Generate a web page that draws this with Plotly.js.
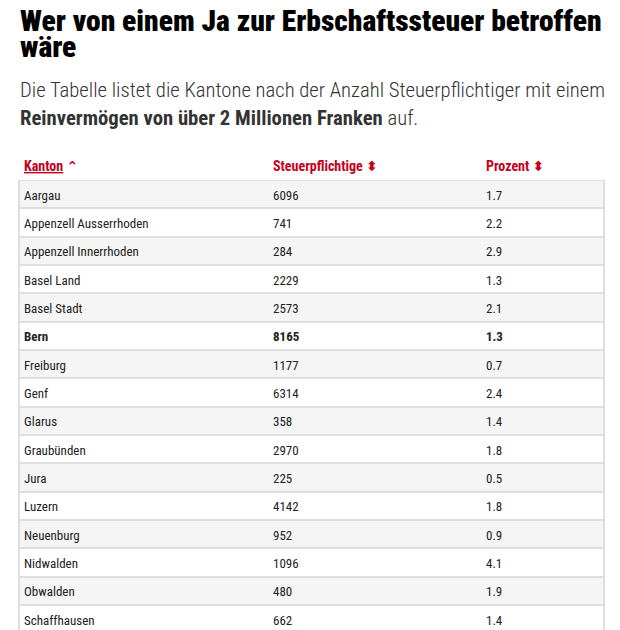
<!DOCTYPE html>
<html>
<head>
<meta charset="utf-8">
<script src="https://cdn.plot.ly/plotly-3.0.1.min.js"></script>
<style>
html,body{margin:0;padding:0;overflow:hidden;background:#fff;}
#chart{width:620px;height:650px;}
</style>
</head>
<body>
<div id="chart"></div>
<script>
var kantone = ["Aargau","Appenzell Ausserrhoden","Appenzell Innerrhoden","Basel Land","Basel Stadt","Bern","Freiburg","Genf","Glarus","Graubünden","Jura","Luzern","Neuenburg","Nidwalden","Obwalden","Schaffhausen"];
var steuerpflichtige = [6096,741,284,2229,2573,8165,1177,6314,358,2970,225,4142,952,1096,480,662];
var prozent = [1.7,2.2,2.9,1.3,2.1,1.3,0.7,2.4,1.4,1.8,0.5,1.8,0.9,4.1,1.9,1.4];
var headers = ["Kanton","Steuerpflichtige","Prozent"];
var highlight = "Bern";

var W = 620, H = 650;
function fy(px){ return 1 - px / H; }
function fx(px){ return px / W; }

var FONT = "Roboto Condensed, DejaVu Sans, sans-serif";
var RED = "#c4001a";
var NBSP = "\u00a0";

var col1 = kantone.slice();
var col2 = steuerpflichtige.map(String);
var col3 = prozent.map(function(v){ return v.toFixed(1); });
var rowWeight = kantone.map(function(k){ return k === highlight ? 700 : 400; });

var rowFill = kantone.map(function(k,i){ return i % 2 === 0 ? "#f5f5f5" : "#ffffff"; });
var emptyCol = kantone.map(function(){ return ""; });

var ROWH = 28.33, HEADH = 30;

var backing = {
  type: "table",
  domain: {x: [fx(19), fx(604)], y: [0, fy(150)]},
  columnwidth: [1],
  header: {values: [""], height: HEADH, fill: {color: "#ffffff"}, line: {color: "#ffffff", width: 0}},
  cells: {values: [emptyCol], height: ROWH, fill: {color: [rowFill]}, line: {color: "#dedede", width: 2}},
  hoverinfo: "skip"
};

var sortIcon = "<b>⬍</b>";
var main = {
  type: "table",
  domain: {x: [fx(16), fx(604)], y: [0, fy(150)]},
  columnwidth: [249, 213, 126],
  header: {
    values: [["<u><b>" + headers[0] + "</b></u>" + NBSP + "<b>⌃</b>"],
             ["<b>" + headers[1] + "</b>" + NBSP + sortIcon],
             ["<b>" + headers[2] + "</b>" + NBSP + sortIcon]],
    height: HEADH,
    align: "left",
    fill: {color: "rgba(0,0,0,0)"},
    line: {color: "rgba(0,0,0,0)", width: 0},
    font: {family: FONT, size: 14, color: RED}
  },
  cells: {
    values: [col1, col2, col3],
    height: ROWH,
    align: "left",
    fill: {color: "rgba(0,0,0,0)"},
    line: {color: "rgba(0,0,0,0)", width: 0},
    font: {family: FONT, size: 13, color: "#222222", weight: [rowWeight, rowWeight, rowWeight]}
  }
};

var layout = {
  width: W, height: H,
  margin: {l: 0, r: 0, t: 0, b: 0},
  paper_bgcolor: "#ffffff",
  showlegend: false,
  annotations: [
    {text: "Wer von einem Ja zur Erbschaftssteuer betroffen", xref: "paper", yref: "paper", x: fx(18), y: fy(21), xanchor: "left", yanchor: "middle", showarrow: false, font: {family: FONT, size: 29.5, weight: 900, color: "#000000"}},
    {text: "wäre", xref: "paper", yref: "paper", x: fx(18), y: fy(47), xanchor: "left", yanchor: "middle", showarrow: false, font: {family: FONT, size: 29.5, weight: 900, color: "#000000"}},
    {text: "Die Tabelle listet die Kantone nach der Anzahl Steuerpflichtiger mit einem", xref: "paper", yref: "paper", x: fx(18), y: fy(90), xanchor: "left", yanchor: "middle", showarrow: false, font: {family: FONT, size: 20.7, weight: 300, color: "#333333"}},
    {text: "<span style='font-weight:700'>Reinvermögen von über 2 Millionen Franken</span> auf.", xref: "paper", yref: "paper", x: fx(18), y: fy(118), xanchor: "left", yanchor: "middle", showarrow: false, font: {family: FONT, size: 20.7, weight: 300, color: "#333333"}}
  ]
};

Plotly.newPlot("chart", [backing, main], layout, {displayModeBar: false, staticPlot: true});
</script>
</body>
</html>
